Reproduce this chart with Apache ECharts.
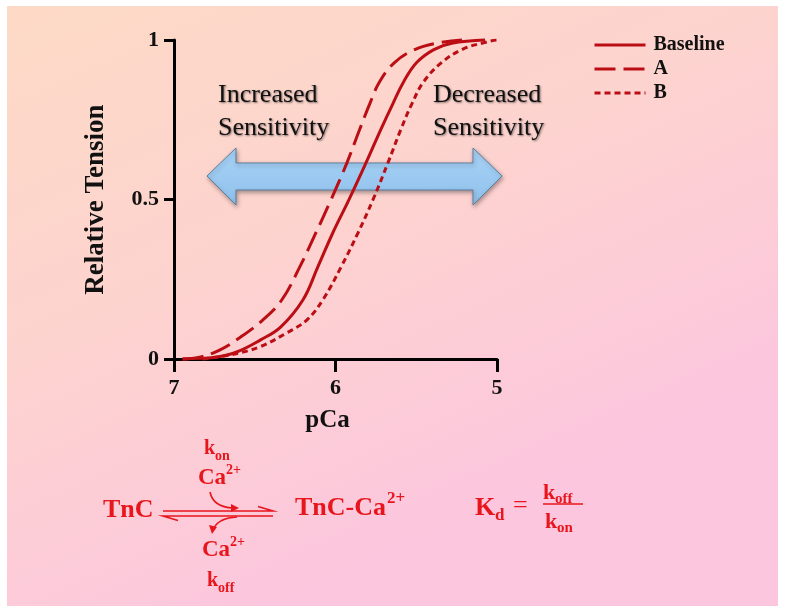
<!DOCTYPE html>
<html>
<head>
<meta charset="utf-8">
<script src="https://cdn.jsdelivr.net/npm/echarts@6/dist/echarts.min.js"></script>
<style>
html,body{margin:0;padding:0;background:#ffffff;}
#chart{width:789px;height:616px;}
</style>
</head>
<body>
<div id="chart"></div>
<script>
// ---- data ----
const xTicks = [7, 6, 5];
const yTicks = [0, 0.5, 1];
const seriesNames = ['Baseline', 'A', 'B'];

const pCaBaseline = [6.947, 6.842, 6.736, 6.612, 6.464, 6.340, 6.202, 6.110, 6.017, 5.918, 5.812, 5.719, 5.645, 5.577, 5.496, 5.391, 5.280, 5.074];
const tensionBaseline = [0, 0.002, 0.006, 0.022, 0.060, 0.100, 0.185, 0.288, 0.395, 0.498, 0.614, 0.720, 0.800, 0.870, 0.930, 0.970, 0.990, 1.0];

const pCaA = [6.947, 6.842, 6.718, 6.587, 6.451, 6.333, 6.222, 6.122, 6.029, 5.930, 5.850, 5.788, 5.726, 5.633, 5.509, 5.372, 5.217];
const tensionA = [0, 0.006, 0.028, 0.069, 0.122, 0.185, 0.288, 0.395, 0.498, 0.614, 0.720, 0.800, 0.870, 0.930, 0.970, 0.990, 1.0];

const pCaB = [6.823, 6.656, 6.470, 6.302, 6.178, 6.079, 5.966, 5.861, 5.769, 5.676, 5.595, 5.527, 5.453, 5.341, 5.217, 5.093, 4.981, 4.900];
const tensionB = [0, 0.0125, 0.038, 0.082, 0.122, 0.185, 0.288, 0.395, 0.498, 0.614, 0.720, 0.800, 0.870, 0.930, 0.970, 0.990, 1.0, 1.0];

// ---- styling ----
const SERIF = '"Liberation Serif", "Times New Roman", Times, serif';
const CURVE = '#bb0e14';
const RED = '#e8161c';

function zip(xs, ys) { return xs.map((x, i) => [x, ys[i]]); }

function txt(x, y, text, size, color, extra) {
  return {
    type: 'text', x: x, y: y, z: 20,
    style: Object.assign({
      text: text, fontSize: size, fontWeight: 'bold', fontFamily: SERIF,
      fill: color, align: 'left', verticalAlign: 'middle'
    }, extra || {})
  };
}

const chart = echarts.init(document.getElementById('chart'), null, {renderer: 'canvas'});

const lineSeries = (name, data, dash) => ({
  name: name,
  type: 'line',
  data: data,
  symbol: 'none',
  smooth: 0.4,
  clip: false,
  z: 5,
  lineStyle: {color: CURVE, width: 3, type: dash},
  itemStyle: {color: CURVE}
});

const graphics = [
  // background panel
  {
    type: 'rect', z: -10, silent: true,
    shape: {x: 7, y: 6, width: 771, height: 600},
    style: {
      fill: new echarts.graphic.LinearGradient(0, 0, 0.35, 1, [
        {offset: 0, color: '#fddac6'},
        {offset: 0.5, color: '#fdd3cf'},
        {offset: 1, color: '#fcc6de'}
      ])
    }
  },
  // double headed arrow
  {
    type: 'polygon', z: 1,
    shape: {points: [[207,176],[236,148],[236,163],[473,163],[473,148],[502,176],[473,205],[473,190],[236,190],[236,205]]},
    style: {
      fill: new echarts.graphic.LinearGradient(0, 0, 0, 1, [
        {offset: 0, color: '#a9d3f6'},
        {offset: 1, color: '#8fc0ec'}
      ]),
      stroke: '#5d7f9f', lineWidth: 1,
      shadowBlur: 4, shadowColor: 'rgba(0,0,0,0.35)', shadowOffsetX: 1, shadowOffsetY: 2
    }
  },
  // sensitivity labels
  txt(218, 112, 'Increased\nSensitivity', 26, '#111', {
    fontWeight: 'normal', lineHeight: 33,
    textShadowColor: 'rgba(0,0,0,0.5)', textShadowBlur: 2, textShadowOffsetX: 1, textShadowOffsetY: 1
  }),
  txt(433, 112, 'Decreased\nSensitivity', 26, '#111', {
    fontWeight: 'normal', lineHeight: 33,
    textShadowColor: 'rgba(0,0,0,0.5)', textShadowBlur: 2, textShadowOffsetX: 1, textShadowOffsetY: 1
  }),
  // reaction scheme
  txt(103, 510, 'TnC', 26, RED),
  txt(204, 449, 'k', 20, RED),
  txt(215, 456, 'on', 14, RED),
  txt(198, 478, 'Ca', 23, RED),
  txt(226, 470, '2+', 14, RED),
  txt(202, 550, 'Ca', 23, RED),
  txt(230, 542, '2+', 14, RED),
  txt(207, 581, 'k', 20, RED),
  txt(218, 588, 'off', 14, RED),
  {
    type: 'polyline', z: 20,
    shape: {points: [[258,506.5],[273,511],[163,511]]},
    style: {stroke: RED, lineWidth: 1.6, fill: null}
  },
  {
    type: 'polyline', z: 20,
    shape: {points: [[273,516],[163,516],[178,520.5]]},
    style: {stroke: RED, lineWidth: 1.6, fill: null}
  },
  {
    type: 'bezierCurve', z: 20,
    shape: {x1: 210, y1: 492, cpx1: 213, cpy1: 507, x2: 233, y2: 508},
    style: {stroke: RED, lineWidth: 1.6, fill: null}
  },
  {
    type: 'polygon', z: 20,
    shape: {points: [[239,508],[231,504],[231,512]]},
    style: {fill: RED}
  },
  {
    type: 'bezierCurve', z: 20,
    shape: {x1: 237, y1: 517, cpx1: 219, cpy1: 518, x2: 214, y2: 528},
    style: {stroke: RED, lineWidth: 1.6, fill: null}
  },
  {
    type: 'polygon', z: 20,
    shape: {points: [[212,534],[209,525],[217,527]]},
    style: {fill: RED}
  },
  txt(295, 508, 'TnC-Ca', 26, RED),
  txt(387, 499, '2+', 17, RED),
  txt(475, 508, 'K', 26, RED),
  txt(495, 516, 'd', 17, RED),
  txt(513, 506, '=', 26, RED, {fontWeight: 'normal'}),
  txt(543, 493, 'k', 22, RED),
  txt(555, 499, 'off', 15, RED),
  {
    type: 'line', z: 20,
    shape: {x1: 543, y1: 504, x2: 583, y2: 504},
    style: {stroke: RED, lineWidth: 1.5}
  },
  txt(545, 522, 'k', 22, RED),
  txt(557, 528, 'on', 15, RED)
];

const option = {
  backgroundColor: 'transparent',
  animation: false,
  grid: {left: 174, right: 292, top: 40, bottom: 257, containLabel: false},
  legend: {
    data: seriesNames,
    orient: 'vertical',
    left: 588, top: 30,
    itemWidth: 51, itemHeight: 14, itemGap: 4,
    textStyle: {fontFamily: SERIF, fontWeight: 'bold', fontSize: 20, color: '#111', padding: [0, 0, 0, 3]},
    itemStyle: {color: 'transparent', borderWidth: 0, opacity: 0},
    lineStyle: {width: 3},
    selectedMode: false
  },
  xAxis: {
    type: 'value',
    inverse: true,
    min: 5, max: 7, interval: 1,
    name: 'pCa',
    nameLocation: 'middle',
    nameGap: 49,
    nameTextStyle: {fontFamily: SERIF, fontWeight: 'bold', fontSize: 25, color: '#111', padding: [0, 16, 0, 0]},
    axisLine: {onZero: false, lineStyle: {color: '#000', width: 3}},
    axisTick: {show: true, length: 13, lineStyle: {color: '#000', width: 3}},
    axisLabel: {
      fontFamily: SERIF, fontWeight: 'bold', fontSize: 22, color: '#111', margin: 18,
      formatter: v => xTicks.includes(v) ? String(v) : ''
    },
    splitLine: {show: false}
  },
  yAxis: {
    type: 'value',
    min: 0, max: 1, interval: 0.5,
    name: 'Relative Tension',
    nameLocation: 'middle',
    nameGap: 64,
    nameTextStyle: {fontFamily: SERIF, fontWeight: 'bold', fontSize: 27, color: '#111'},
    axisLine: {show: true, onZero: false, lineStyle: {color: '#000', width: 3}},
    axisTick: {show: true, length: 10, lineStyle: {color: '#000', width: 3}},
    axisLabel: {
      fontFamily: SERIF, fontWeight: 'bold', fontSize: 22, color: '#111', margin: 15,
      formatter: v => yTicks.includes(v) ? String(v) : ''
    },
    splitLine: {show: false}
  },
  series: [
    lineSeries(seriesNames[0], zip(pCaBaseline, tensionBaseline), 'solid'),
    lineSeries(seriesNames[1], zip(pCaA, tensionA), [21, 8]),
    lineSeries(seriesNames[2], zip(pCaB, tensionB), [6, 4])
  ],
  graphic: graphics
};

chart.setOption(option);
</script>
</body>
</html>
